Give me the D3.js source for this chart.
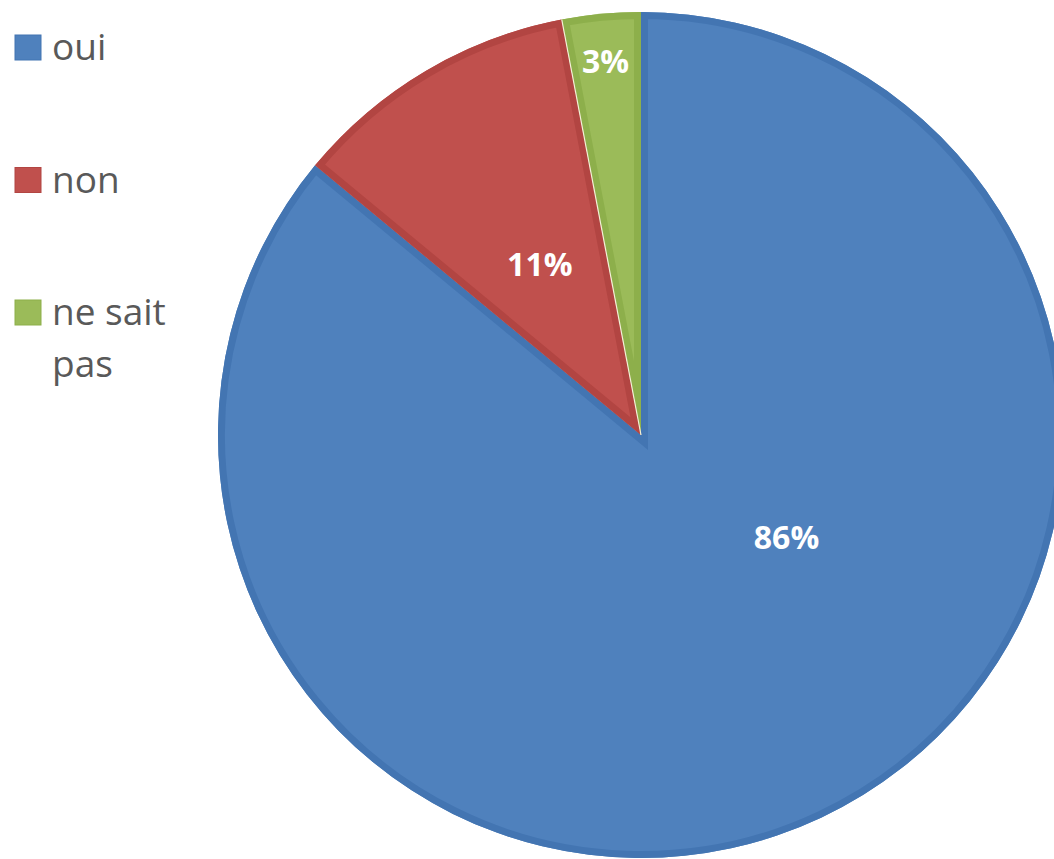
<!DOCTYPE html>
<html><head><meta charset="utf-8">
<script src="https://cdn.jsdelivr.net/npm/d3@7"></script>
<style>html,body{margin:0;padding:0;background:#fff;overflow:hidden}</style>
</head><body>
<svg id="chart" width="1054" height="859"></svg>
<script>
const categories = ["oui", "non", "ne sait pas"];
const values = [86, 11, 3];
const labels = ["86%", "11%", "3%"];
const legendLines = [["oui"], ["non"], ["ne sait", "pas"]];
const colors = ["#4F81BD", "#C0504D", "#9BBB59"];
const borderColors = ["#4375B2", "#B24542", "#8DAF4B"];

const svg = d3.select("#chart");
const W = 1054, H = 859;
const cx = 641, cy = 435, R = 423;

const pie = d3.pie().sort(null).value(d => d)(values);
const arc = d3.arc().innerRadius(0).outerRadius(R);

const g = svg.append("g").attr("transform", `translate(${cx},${cy})`);
const defs = svg.append("defs");

pie.forEach((p, i) => {
  defs.append("clipPath").attr("id", "clip" + i)
    .append("path").attr("d", arc(p));
});

const slices = g.selectAll("g.slice").data(pie).join("g").attr("class", "slice");
slices.append("path").attr("d", arc).attr("fill", (d, i) => colors[i]);
slices.append("path").attr("d", arc)
  .attr("fill", "none")
  .attr("stroke", (d, i) => borderColors[i])
  .attr("stroke-width", 14)
  .attr("stroke-linejoin", "miter")
  .attr("clip-path", (d, i) => `url(#clip${i})`);

// thin light separator on green slice's left edge
const green = pie[2];
g.append("line")
  .attr("x1", 0).attr("y1", 0)
  .attr("x2", R * Math.sin(green.startAngle)).attr("y2", -R * Math.cos(green.startAngle))
  .attr("stroke", "#F4F0D8").attr("stroke-width", 1.2);

// data labels: polar position relative to the slice (Excel-like placement)
const labelAngleShift = [-0.52, 0, 0];
const labelRadiusFrac = [0.42, 0.47, 0.89];
pie.forEach((p, i) => {
  const a = (p.startAngle + p.endAngle) / 2 + labelAngleShift[i];
  const r = R * labelRadiusFrac[i];
  g.append("text")
    .attr("x", r * Math.sin(a))
    .attr("y", -r * Math.cos(a))
    .attr("text-anchor", "middle")
    .attr("dominant-baseline", "central")
    .attr("font-family", "'Open Sans', sans-serif")
    .attr("font-weight", "bold")
    .attr("font-size", 32)
    .attr("fill", "#fff")
    .text(labels[i]);
});

// legend
const leg = svg.append("g");
const legY = d3.scalePoint().domain(categories).range([60, 325]);
categories.forEach((c, i) => {
  const by = legY(c);
  leg.append("rect")
    .attr("x", 15).attr("y", by - 25).attr("width", 26).attr("height", 25)
    .attr("fill", colors[i]).attr("stroke", borderColors[i]).attr("stroke-width", 1);
  legendLines[i].forEach((t, j) => {
    leg.append("text")
      .attr("x", 52).attr("y", by + j * 52)
      .attr("font-family", "'Open Sans', sans-serif")
      .attr("font-size", 37)
      .attr("fill", "#595959")
      .text(t);
  });
});
</script>
</body></html>
